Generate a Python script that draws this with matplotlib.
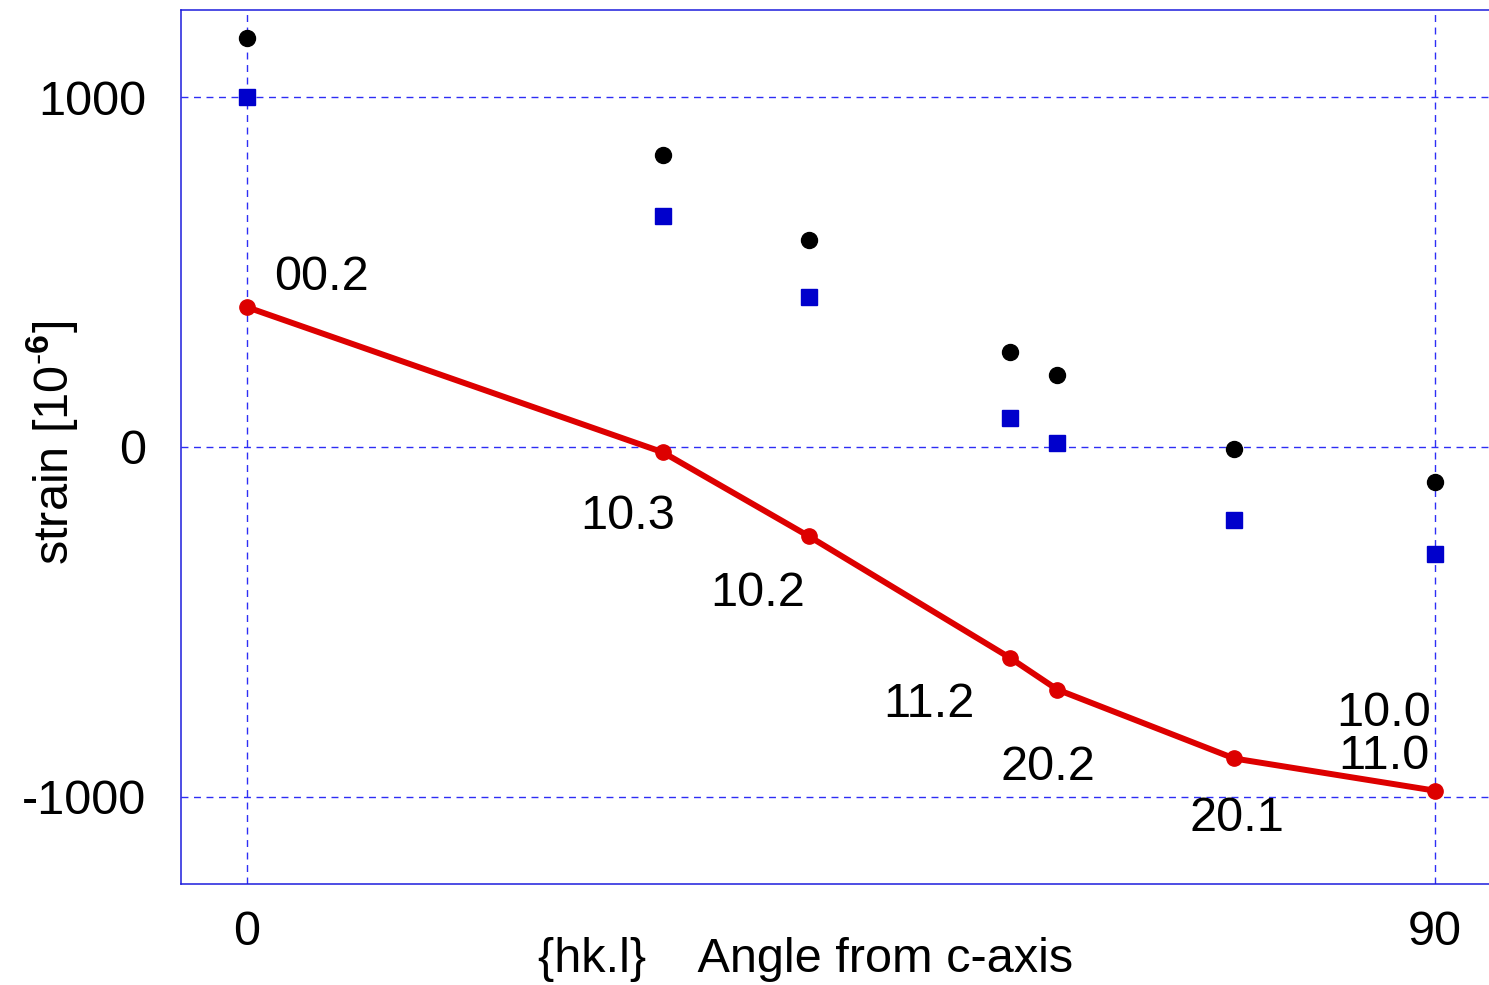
import matplotlib
matplotlib.use("Agg")
import matplotlib.pyplot as plt

plt.rcParams['font.family'] = ['Liberation Sans', 'DejaVu Sans']
plt.rcParams['mathtext.fontset'] = 'custom'
plt.rcParams['mathtext.rm'] = 'Liberation Sans'
plt.rcParams['mathtext.it'] = 'Liberation Sans:italic'
plt.rcParams['mathtext.bf'] = 'Liberation Sans:bold'

# Angle of each {hk.l} plane normal from the c-axis (degrees)
angles = [0.0, 31.5, 42.6, 57.8, 61.4, 74.8, 90.0]
planes = ["00.2", "10.3", "10.2", "11.2", "20.2", "20.1", "11.0"]

# Lattice strains, units of 1e-6
strain_line = [400, -15, -256, -603, -694, -891, -983]
strain_circle = [1171, 836, 591, 271, 205, -7, -101]
strain_square = [1000, 660, 429, 84, 12, -209, -306]

x_ticks = [0, 90]
y_ticks = [-1000, 0, 1000]

W, H = 1489, 985
FS = 35
fig = plt.figure(figsize=(W / 100, H / 100), dpi=100)
ax = fig.add_axes([181 / W, (H - 884) / H, (W - 181) / W, (884 - 10) / H])

ax.set_xlim(-5.0, 94.1)
ax.set_ylim(-1250, 1250)

axis_blue = '#1c1cdc'
for side in ['left', 'top', 'bottom']:
    ax.spines[side].set_color(axis_blue)
    ax.spines[side].set_linewidth(1.1)
ax.spines['right'].set_visible(False)

ax.set_xticks(x_ticks)
ax.set_yticks(y_ticks)
ax.set_xticklabels([str(v) for v in x_ticks])
ax.set_yticklabels([str(v) for v in y_ticks])
ax.tick_params(axis='both', length=0, labelsize=FS, colors='black')
ax.tick_params(axis='x', pad=19)
ax.tick_params(axis='y', pad=25)

ax.grid(True, color='#2e2ef5', linestyle=(0, (5, 4)), linewidth=1.0, zorder=0)
ax.set_axisbelow(True)

ax.plot(angles, strain_circle, 'o', color='black', markersize=11.5, zorder=3)
ax.plot(angles, strain_square, 's', color='#0000cc', markersize=12, zorder=3)
ax.plot(angles, strain_line, '-o', color='#dd0000', linewidth=4.3,
        markersize=11, zorder=4, clip_on=False)

# Plane labels: offsets (pixels) from each point to the text's left baseline
label_offsets = [(27, 17), (-83, -77), (-99, -70), (-127, -59),
                 (-57, -90), (-45, -73), (-97, 22)]
for x, y, lab, (dx, dy) in zip(angles, strain_line, planes, label_offsets):
    ax.annotate(lab, xy=(x, y), xytext=(dx, dy), textcoords='offset pixels',
                ha='left', va='baseline', fontsize=FS, zorder=5)
ax.annotate("10.0", xy=(angles[-1], strain_line[-1]), xytext=(-99, 65),
            textcoords='offset pixels', ha='left', va='baseline', fontsize=FS, zorder=5)

fig.text(806 / W, 1 - 972 / H, "{hk.l}    Angle from c-axis", ha='center',
         va='baseline', fontsize=FS)
fig.text(52 / W, 1 - 443 / H, r"strain [10$^{\mathbf{\text{-}6}}$]", rotation=90,
         ha='center', va='center', fontsize=FS)

fig.savefig("out.png", dpi=100)
